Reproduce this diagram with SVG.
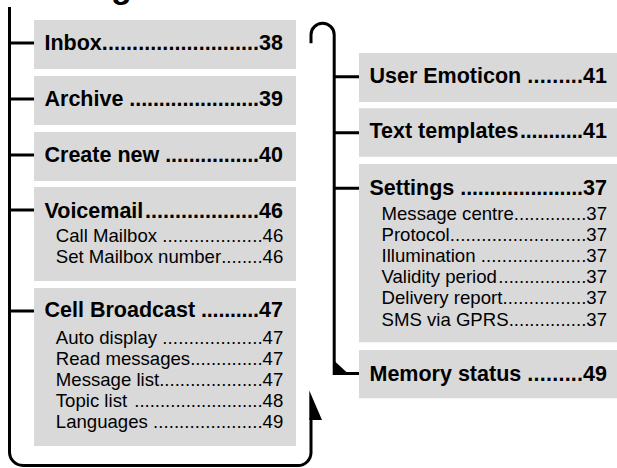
<svg xmlns="http://www.w3.org/2000/svg" width="617" height="468" viewBox="0 0 617 468">
<style>
.box{fill:#d9d9d9}
text{font-family:"Liberation Sans",Arial,sans-serif;fill:#000}
.h{font-size:21.5px;font-weight:bold}
.s{font-size:18.6px}
.n{text-anchor:end}
.ln{fill:none;stroke:#000;stroke-width:3}
.t{font-family:"Liberation Sans",Arial,sans-serif;font-size:34px;font-weight:bold}
</style>
<text class="t" x="111" y="-2">g</text>
<g id="connectors">
<path class="ln" d="M9.5,7 V452 A13.5,13.5 0 0 0 23,465.5 H298 A13,13 0 0 0 311,452.5 V418"/>
<polygon points="309.3,390.5 322,420 309.3,420" fill="#000"/>
<path class="ln" d="M9.5,43 H34 M9.5,99 H34 M9.5,155 H34 M9.5,210 H34 M9.5,311 H34"/>
<path class="ln" d="M311,43.3 V34.8 A11.6,11.6 0 0 1 334.2,34.8 V373.5 H359"/>
<polygon points="335,361.5 335,373.5 348,373.5" fill="#000"/>
<path class="ln" d="M334,76.7 H359 M334,132.7 H359 M334,188.3 H359"/>
</g>
<g id="inbox">
<rect class="box" x="34" y="20" width="262" height="49"/>
<text class="h" x="44.5" y="50">Inbox</text>
<text class="h" x="101.84" y="50" textLength="157.25" lengthAdjust="spacing">..........................</text>
<text class="h n" x="283" y="50">38</text>
</g>
<g id="archive">
<rect class="box" x="34" y="76" width="262" height="49"/>
<text class="h" x="44.5" y="106">Archive </text>
<text class="h" x="129.34" y="106" textLength="129.75" lengthAdjust="spacing">......................</text>
<text class="h n" x="283" y="106">39</text>
</g>
<g id="create-new">
<rect class="box" x="34" y="132" width="262" height="49"/>
<text class="h" x="44.5" y="161.7">Create new </text>
<text class="h" x="165.18" y="161.7" textLength="93.91" lengthAdjust="spacing">................</text>
<text class="h n" x="283" y="161.7">40</text>
</g>
<g id="voicemail">
<rect class="box" x="34" y="187" width="262" height="94"/>
<text class="h" x="44.5" y="217.7">Voicemail</text>
<text class="h" x="144.88" y="217.7" textLength="114.21" lengthAdjust="spacing">...................</text>
<text class="h n" x="283" y="217.7">46</text>
<text class="s" x="55.8" y="242.3">Call Mailbox </text>
<text class="s" x="162.25" y="242.3" textLength="100.37" lengthAdjust="spacing">...................</text>
<text class="s n" x="283.3" y="242.3">46</text>
<text class="s" x="55.8" y="263.4">Set Mailbox number</text>
<text class="s" x="221.19" y="263.4" textLength="41.43" lengthAdjust="spacing">........</text>
<text class="s n" x="283.3" y="263.4">46</text>
</g>
<g id="cell-broadcast">
<rect class="box" x="34" y="288" width="262" height="158"/>
<text class="h" x="44.5" y="317.3">Cell Broadcast </text>
<text class="h" x="201.02" y="317.3" textLength="58.07" lengthAdjust="spacing">..........</text>
<text class="h n" x="283" y="317.3">47</text>
<text class="s" x="55.8" y="343.6">Auto display </text>
<text class="s" x="162.29" y="343.6" textLength="100.33" lengthAdjust="spacing">...................</text>
<text class="s n" x="283.3" y="343.6">47</text>
<text class="s" x="55.8" y="364.8">Read messages</text>
<text class="s" x="190.19" y="364.8" textLength="72.43" lengthAdjust="spacing">..............</text>
<text class="s n" x="283.3" y="364.8">47</text>
<text class="s" x="55.8" y="386">Message list</text>
<text class="s" x="159.16" y="386" textLength="103.46" lengthAdjust="spacing">....................</text>
<text class="s n" x="283.3" y="386">47</text>
<text class="s" x="55.8" y="407.2">Topic list </text>
<text class="s" x="134.35" y="407.2" textLength="128.27" lengthAdjust="spacing">.........................</text>
<text class="s n" x="283.3" y="407.2">48</text>
<text class="s" x="55.8" y="428.4">Languages </text>
<text class="s" x="153" y="428.4" textLength="109.62" lengthAdjust="spacing">.....................</text>
<text class="s n" x="283.3" y="428.4">49</text>
</g>
<g id="user-emoticon">
<rect class="box" x="359" y="53" width="258" height="49"/>
<text class="h" x="369.5" y="83.3">User Emoticon </text>
<text class="h" x="527.2" y="83.3" textLength="55.89" lengthAdjust="spacing">.........</text>
<text class="h n" x="607" y="83.3">41</text>
</g>
<g id="text-templates">
<rect class="box" x="359" y="108.3" width="258" height="48.5"/>
<text class="h" x="369.5" y="138.3">Text templates</text>
<text class="h" x="520.04" y="138.3" textLength="63.05" lengthAdjust="spacing">...........</text>
<text class="h n" x="607" y="138.3">41</text>
</g>
<g id="settings">
<rect class="box" x="359" y="164" width="258" height="178.3"/>
<text class="h" x="369.5" y="195">Settings </text>
<text class="h" x="460.29" y="195" textLength="122.8" lengthAdjust="spacing">.....................</text>
<text class="h n" x="607" y="195">37</text>
<text class="s" x="381.5" y="220">Message centre</text>
<text class="s" x="513.82" y="220" textLength="72.5" lengthAdjust="spacing">..............</text>
<text class="s n" x="607" y="220">37</text>
<text class="s" x="381.5" y="241.1">Protocol</text>
<text class="s" x="449.72" y="241.1" textLength="136.6" lengthAdjust="spacing">..........................</text>
<text class="s n" x="607" y="241.1">37</text>
<text class="s" x="381.5" y="262.2">Illumination </text>
<text class="s" x="480.73" y="262.2" textLength="105.59" lengthAdjust="spacing">....................</text>
<text class="s n" x="607" y="262.2">37</text>
<text class="s" x="381.5" y="283.3">Validity period</text>
<text class="s" x="498.31" y="283.3" textLength="88.01" lengthAdjust="spacing">.................</text>
<text class="s n" x="607" y="283.3">37</text>
<text class="s" x="381.5" y="304.4">Delivery report</text>
<text class="s" x="502.42" y="304.4" textLength="83.9" lengthAdjust="spacing">................</text>
<text class="s n" x="607" y="304.4">37</text>
<text class="s" x="381.5" y="325.6">SMS via GPRS</text>
<text class="s" x="508.63" y="325.6" textLength="77.69" lengthAdjust="spacing">...............</text>
<text class="s n" x="607" y="325.6">37</text>
</g>
<g id="memory-status">
<rect class="box" x="359" y="350" width="258" height="48.3"/>
<text class="h" x="369.5" y="380.7">Memory status </text>
<text class="h" x="527.2" y="380.7" textLength="55.89" lengthAdjust="spacing">.........</text>
<text class="h n" x="607" y="380.7">49</text>
</g>
</svg>
